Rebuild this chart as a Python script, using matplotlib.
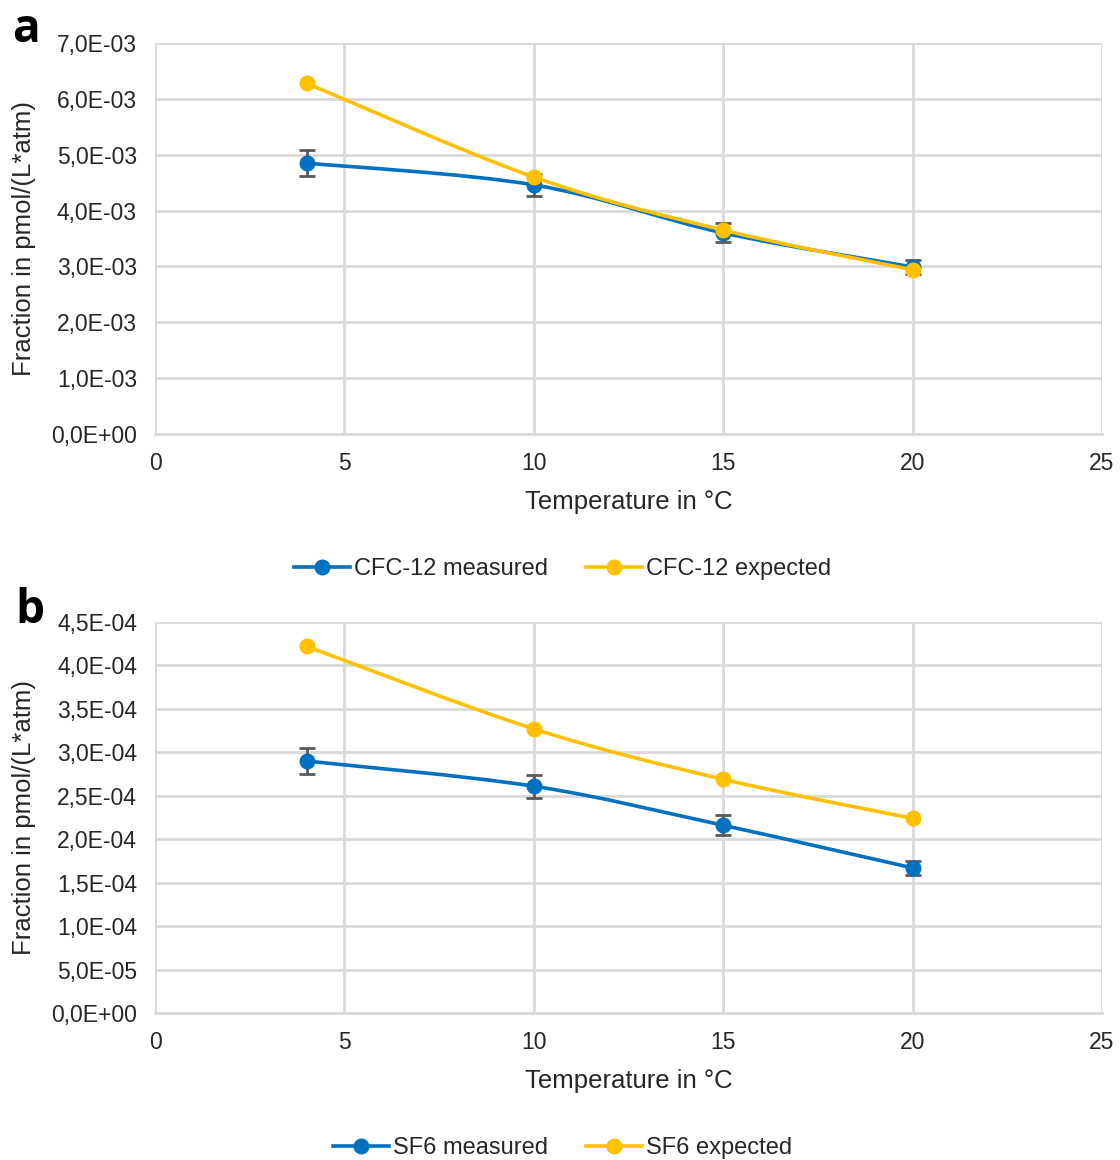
import matplotlib
matplotlib.use("Agg")
import matplotlib.pyplot as plt
from matplotlib.path import Path
from matplotlib.patches import PathPatch
from matplotlib.lines import Line2D
from matplotlib.ticker import FuncFormatter, MultipleLocator
import numpy as np

# Temperatures (°C)
temperature = [4, 10, 15, 20]

# CFC-12 (pmol/(L*atm))
cfc12_measured = [4.85e-3, 4.46e-3, 3.60e-3, 2.99e-3]
cfc12_measured_err = [0.23e-3, 0.20e-3, 0.17e-3, 0.13e-3]
cfc12_expected = [6.28e-3, 4.60e-3, 3.65e-3, 2.94e-3]

# SF6 (pmol/(L*atm))
sf6_measured = [2.90e-4, 2.61e-4, 2.16e-4, 1.67e-4]
sf6_measured_err = [0.15e-4, 0.13e-4, 0.115e-4, 0.085e-4]
sf6_expected = [4.22e-4, 3.27e-4, 2.69e-4, 2.24e-4]

BLUE = "#0070C0"
YELLOW = "#FFC000"
GRID = "#D9D9D9"
TEXT = "#262626"
FONT = "Liberation Sans"

plt.rcParams["font.family"] = [FONT, "DejaVu Sans"]


def smooth_path(x, y):
    """Cubic Bezier path through the points (Catmull-Rom style smoothing)."""
    pts = np.column_stack([x, y]).astype(float)
    n = len(pts)
    verts = [pts[0]]
    codes = [Path.MOVETO]
    for i in range(n - 1):
        p0 = pts[i - 1] if i > 0 else pts[i]
        p1 = pts[i]
        p2 = pts[i + 1]
        p3 = pts[i + 2] if i + 2 < n else pts[i + 1]
        c1 = p1 + (p2 - p0) / 6.0
        c2 = p2 - (p3 - p1) / 6.0
        verts += [c1, c2, p2]
        codes += [Path.CURVE4] * 3
    return Path(verts, codes)


def sci_comma(v, pos):
    return f"{v:.1E}".replace(".", ",")


def draw_panel(ax, meas, err, exp, ymax, ystep):
    ax.set_xlim(0, 25)
    ax.set_ylim(0, ymax)
    ax.xaxis.set_major_locator(MultipleLocator(5))
    ax.yaxis.set_major_locator(MultipleLocator(ystep))
    ax.yaxis.set_major_formatter(FuncFormatter(sci_comma))
    ax.grid(True, color=GRID, linewidth=2.0, zorder=0)
    ax.set_axisbelow(True)
    for s in ["top", "right", "left"]:
        ax.spines[s].set_visible(False)
    ax.spines["bottom"].set_color(GRID)
    ax.spines["bottom"].set_linewidth(2.0)
    ax.tick_params(axis="y", length=0, labelsize=16.5, labelcolor=TEXT, pad=13)
    ax.tick_params(axis="x", length=0, labelsize=16.5, labelcolor=TEXT, pad=13)

    # measured series
    ax.add_patch(PathPatch(smooth_path(temperature, meas), fill=False,
                           edgecolor=BLUE, linewidth=2.6, zorder=3,
                           capstyle="round", joinstyle="round"))
    ax.errorbar(temperature, meas, yerr=err, fmt="none", ecolor="#595959",
                elinewidth=2.0, capsize=6, capthick=2.0, zorder=3.5)
    ax.plot(temperature, meas, linestyle="none", marker="o", markersize=10.5,
            color=BLUE, zorder=4)

    # expected series
    ax.add_patch(PathPatch(smooth_path(temperature, exp), fill=False,
                           edgecolor=YELLOW, linewidth=2.6, zorder=5,
                           capstyle="round", joinstyle="round"))
    ax.plot(temperature, exp, linestyle="none", marker="o", markersize=10.5,
            color=YELLOW, zorder=6)

    ax.set_xlabel("Temperature in °C", fontsize=18.5, color=TEXT)
    ax.set_ylabel("Fraction in pmol/(L*atm)", fontsize=18.5, color=TEXT)


fig = plt.figure(figsize=(11.2, 11.6), dpi=100)
W, H = 1120, 1160

ax_a = fig.add_axes([155 / W, 1 - 434 / H, (1102 - 155) / W, (434 - 43) / H])
ax_b = fig.add_axes([155 / W, 1 - 1013 / H, (1102 - 155) / W, (1013 - 622) / H])

draw_panel(ax_a, cfc12_measured, cfc12_measured_err, cfc12_expected, 7e-3, 1e-3)
draw_panel(ax_b, sf6_measured, sf6_measured_err, sf6_expected, 4.5e-4, 0.5e-4)

for ax in (ax_a, ax_b):
    ax.yaxis.set_label_coords(-0.126, 0.5)
    ax.xaxis.set_label_coords(0.5, -0.142)


def legend_handles(meas_label, exp_label):
    return [
        Line2D([], [], color=BLUE, linewidth=2.6, marker="o", markersize=10.5,
               label=meas_label),
        Line2D([], [], color=YELLOW, linewidth=2.6, marker="o", markersize=10.5,
               label=exp_label),
    ]


for labels, ypix in ((("CFC-12 measured", "CFC-12 expected"), 569),
                     (("SF6 measured", "SF6 expected"), 1148)):
    fig.legend(handles=legend_handles(*labels),
               loc="center", bbox_to_anchor=(0.502, 1 - ypix / H), ncol=2,
               frameon=False, fontsize=17, handlelength=2.4,
               handletextpad=0.15, columnspacing=1.6, labelcolor=TEXT)

fig.text(26 / W, 1 - 42 / H, "a", fontsize=33, fontweight="bold",
         family=["Open Sans", "DejaVu Sans"], ha="center", va="baseline",
         color="black")
fig.text(30 / W, 1 - 623 / H, "b", fontsize=33, fontweight="bold",
         family=["Open Sans", "DejaVu Sans"], ha="center", va="baseline",
         color="black")

fig.savefig("out.png", dpi=100, facecolor="white")
